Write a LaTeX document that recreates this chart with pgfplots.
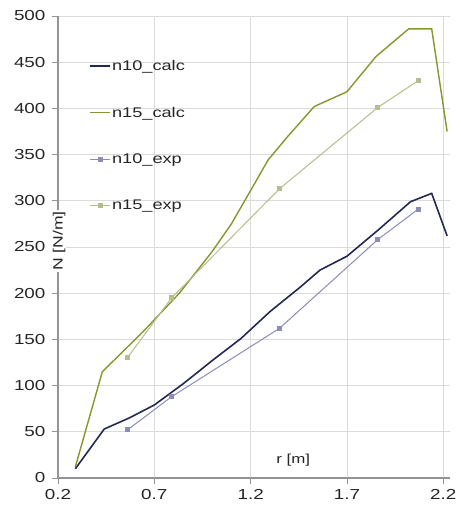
\documentclass[border=0pt]{standalone}
\usepackage{fontspec}
\setmainfont{Liberation Sans}[FakeStretch=1.3]
\usepackage{pgfplots}
\pgfplotsset{compat=1.18}
\definecolor{ntencalc}{RGB}{35,40,80}
\definecolor{nfiftcalc}{RGB}{135,150,45}
\definecolor{ntenexp}{RGB}{140,140,185}
\definecolor{nfiftexp}{RGB}{178,190,140}
\begin{document}
\begin{tikzpicture}
\begin{axis}[
  scale only axis, width=392pt, height=462pt,
  xmin=0.2, xmax=2.235, ymin=0, ymax=500,
  xtick={0.2,0.7,1.2,1.7,2.2}, xticklabels={0.2,0.7,1.2,1.7,2.2},
  ytick={0,50,...,500},
  axis x line=bottom, axis y line=left,
  x axis line style={-, draw=gray!85, line width=1.6pt},
  y axis line style={-, draw=gray!85, line width=1.1pt},
  tick align=outside, major tick length=6pt,
  tick style={draw=gray!85, line width=0.8pt},
  grid=major, major grid style={draw=gray!28, line width=0.7pt},
  /pgf/number format/assume math mode=true,
  tick label style={font=\fontsize{14.5}{16}\selectfont, text=black!85},
  yticklabel style={xshift=-3pt},
  xticklabel style={yshift=-2pt},
  xlabel={r [m]}, ylabel={N [N/m]},
  every axis x label/.style={at={(axis description cs:0.60,0.039)}, anchor=center, font=\fontsize{13}{15}\selectfont, text=black!85},
  every axis y label/.style={at={(axis description cs:0.003,0.513)}, anchor=center, rotate=90, fill=white, inner sep=1pt, font=\fontsize{13.5}{15}\selectfont, text=black!85},
  legend style={at={(axis description cs:0.072,0.911)}, anchor=north west, draw=none, fill=none, row sep=33pt, font=\fontsize{14}{16}\selectfont, text=black!85, nodes={inner sep=1pt}},
  legend cell align=left,
  legend image code/.code={\draw[mark repeat=2,mark phase=2] plot coordinates {(0pt,0pt) (10pt,0pt) (20pt,0pt)};},
]
\coordinate (SW) at (rel axis cs:0,0);
\coordinate (NE) at (rel axis cs:1,1);
\addplot[color=ntencalc, line width=1.6pt, no marks] coordinates {
(0.29,10)(0.44,53)(0.57,65)(0.7,79)(0.85,102)(1.0,127)(1.15,151)(1.3,180)(1.46,207)(1.56,225)(1.7,240)(1.86,268)(2.03,299)(2.14,308)(2.22,262)};
\addlegendentry{n10\_calc}
\addplot[color=nfiftcalc, line width=1.4pt, no marks] coordinates {
(0.29,12)(0.43,115)(0.64,158)(0.83,200)(1.0,245)(1.1,275)(1.23,322)(1.29,344)(1.39,369)(1.53,402)(1.7,418)(1.85,456)(2.02,486)(2.14,486)(2.22,375)};
\addlegendentry{n15\_calc}
\addplot[color=ntenexp, line width=1pt, mark=square*, mark size=2pt] coordinates {
(0.56,52)(0.79,88)(1.35,162)(1.86,258)(2.07,291)};
\addlegendentry{n10\_exp}
\addplot[color=nfiftexp, line width=1pt, mark=square*, mark size=2pt] coordinates {
(0.56,130)(0.79,195)(1.35,313)(1.86,401)(2.07,430)};
\addlegendentry{n15\_exp}
\end{axis}
\pgfresetboundingbox
\path ([shift={(-58pt,-35pt)}]SW) rectangle ([shift={(10pt,16pt)}]NE);
\end{tikzpicture}
\end{document}
